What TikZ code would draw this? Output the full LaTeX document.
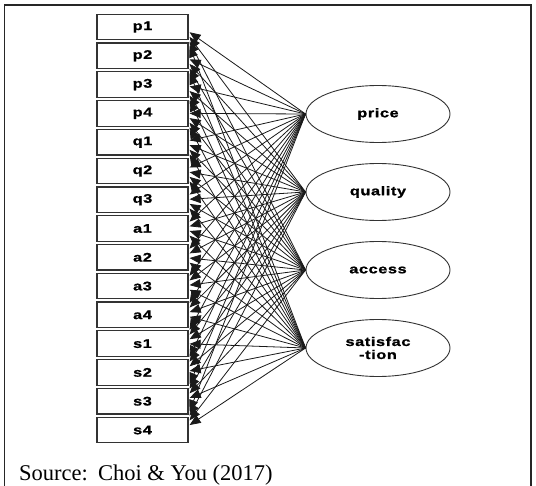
\documentclass[tikz,border=0pt]{standalone}
\usepackage{fontspec}
\setmainfont{Liberation Serif}
\newfontfamily\lblfont{Liberation Sans}[FakeStretch=1.3,LetterSpace=5,FakeBold=1.2]
\usetikzlibrary{arrows.meta,shapes.geometric,calc}

\begin{document}
\begin{tikzpicture}[x=1pt,y=-1pt,
  ind/.style={draw=black!80, line width=1.2pt, minimum width=91pt,
    minimum height=25.5pt, inner sep=0pt,
    font=\lblfont\bfseries\fontsize{12.5}{13}\selectfont},
  lat/.style={ellipse, draw=black!80, line width=0.9pt, minimum width=144pt,
    minimum height=57pt, inner sep=0pt, align=center,
    font=\lblfont\bfseries\fontsize{12.5}{13}\selectfont},
  load/.style={draw=black!90, line width=0.8pt,
    -{Triangle[length=11pt,width=9pt]}}]

\useasboundingbox (0,0) rectangle (536,486);

% outer frame
\draw[line width=1.3pt, black!85] (4.5,486) -- (4.5,5) -- (531,5) -- (531,486);

% observed indicators
\foreach \n [count=\i from 0] in {p1,p2,p3,p4,q1,q2,q3,a1,a2,a3,a4,s1,s2,s3,s4}
  \node[ind] (\n) at (142.5,{27.05+28.78*\i}) {\n};

% latent factors
\node[lat] (price)   at (378,114) {price};
\node[lat] (quality) at (378,192) {quality};
\node[lat] (access)  at (378,270) {access};
\node[lat] (sat)     at (378,348) {satisfac\\-tion};

% loadings: every factor to every indicator
\foreach \e in {price,quality,access,sat}
  \foreach \b in {p1,p2,p3,p4,q1,q2,q3,a1,a2,a3,a4,s1,s2,s3,s4}
    \draw[load] let \p1=(\b.east), \p2=(\e.west) in
      (\p2) -- ({\x1+1pt},{\y1+0.06*(\y2-\y1)});

% source line
\node[anchor=base west, inner sep=0pt, font=\fontsize{22.5}{26}\selectfont]
  (src) at (19,480) {Source:\hspace{0.45em}Choi \& You (2017)};
\end{tikzpicture}
\end{document}
